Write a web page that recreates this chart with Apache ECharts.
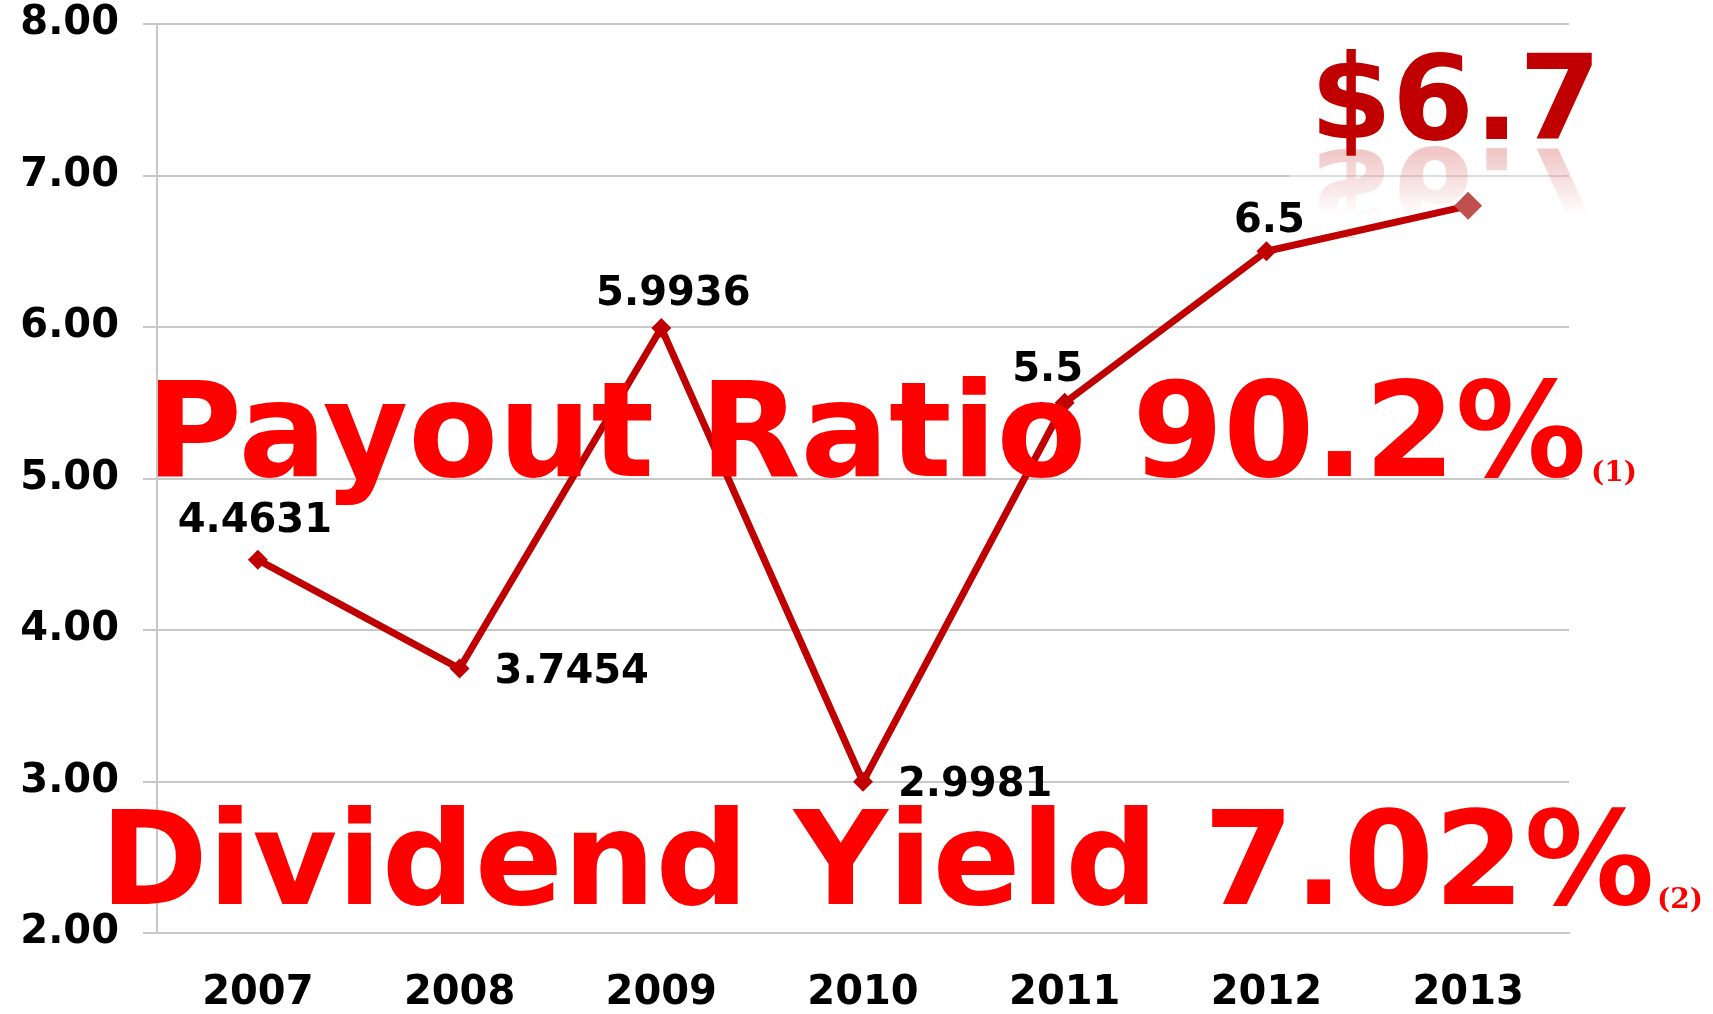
<!DOCTYPE html>
<html>
<head>
<meta charset="utf-8">
<script src="https://cdn.jsdelivr.net/npm/echarts@6/dist/echarts.min.js"></script>
<style>
    html, body {
        margin: 0;
        padding: 0;
        background: #fff;
    }
    #chart {
        width: 1713px;
        height: 1014px;
    }
</style>
</head>
<body>
<div id="chart"></div>
<script>
    // data
    const years = ['2007', '2008', '2009', '2010', '2011', '2012', '2013'];
    const dividends = [4.4631, 3.7454, 5.9936, 2.9981, 5.5, 6.5, 6.8];
    const pointLabels = ['4.4631', '3.7454', '5.9936', '2.9981', '5.5', '6.5', ''];
    const headline = '$6.7';
    const payoutText = 'Payout Ratio 90.2%';
    const yieldText = 'Dividend Yield 7.02%';

    const lineRed = '#C00000';
    const gridGray = '#C8C8C8';
    const labelFont = {
        fontFamily: 'DejaVu Sans',
        fontWeight: 'bold',
        fontSize: 40,
        color: '#000'
    };

    // where each value label sits round its point
    const labelPlace = [
        { position: 'top', distance: 8, offset: [-3, 0] },
        { position: 'right', distance: 25, offset: [0, 4] },
        { position: 'top', distance: 3, offset: [12, 0] },
        { position: 'right', distance: 25, offset: [0, 4] },
        { position: 'top', distance: 2, offset: [-17, 0] },
        { position: 'top', distance: 0, offset: [3, 0] },
        null
    ];

    let seriesData = dividends.map(function (v, i) {
        let item = { value: v };
        if (labelPlace[i]) {
            item.label = Object.assign({
                show: true,
                formatter: pointLabels[i]
            }, labelFont, labelPlace[i]);
        } else {
            // the last year is drawn as a bigger, lighter marker
            item.symbolSize = 28;
            item.itemStyle = { color: '#C0504D' };
            item.label = { show: false };
        }
        return item;
    });

    let myChart = echarts.init(document.getElementById('chart'));
    let option = {
        animation: false,
        grid: {
            left: 157,
            right: 144,
            top: 24,
            bottom: 75,
            containLabel: false
        },
        xAxis: {
            type: 'category',
            data: years,
            boundaryGap: true,
            axisLine: { show: true, lineStyle: { color: gridGray, width: 2 } },
            axisTick: { show: false },
            axisLabel: Object.assign({ margin: 41 }, labelFont),
            splitLine: { show: false }
        },
        yAxis: {
            type: 'value',
            min: 2,
            max: 8,
            interval: 1,
            axisLine: { show: true, lineStyle: { color: gridGray, width: 2 } },
            axisTick: { show: true, length: 14, lineStyle: { color: gridGray, width: 2 } },
            axisLabel: Object.assign({
                margin: 38,
                formatter: function (v) { return v.toFixed(2); }
            }, labelFont),
            splitLine: { show: true, lineStyle: { color: gridGray, width: 2 } }
        },
        series: [{
            type: 'line',
            data: seriesData,
            symbol: 'diamond',
            symbolSize: 20,
            lineStyle: { color: lineRed, width: 7 },
            itemStyle: { color: lineRed },
            z: 3
        }],
        graphic: [
            {
                // faint mirror of the headline
                type: 'text',
                z: 1,
                x: 1310,
                y: 144,
                scaleY: -1,
                style: {
                    text: headline,
                    x: 0,
                    y: -35,
                    verticalAlign: 'middle',
                    font: 'bold 118px "DejaVu Sans"',
                    fill: 'rgba(192,0,0,0.22)'
                }
            },
            {
                type: 'rect',
                z: 2,
                shape: { x: 1290, y: 152, width: 345, height: 85 },
                style: {
                    fill: new echarts.graphic.LinearGradient(0, 0, 0, 1, [
                        { offset: 0, color: 'rgba(255,255,255,0)' },
                        { offset: 0.75, color: 'rgba(255,255,255,1)' },
                        { offset: 1, color: 'rgba(255,255,255,1)' }
                    ])
                }
            },
            {
                type: 'text',
                z: 101,
                style: {
                    text: headline,
                    x: 1310,
                    y: 108,
                    verticalAlign: 'middle',
                    font: 'bold 118px "DejaVu Sans"',
                    fill: '#C00000'
                }
            },
            {
                type: 'text',
                z: 101,
                style: {
                    text: payoutText,
                    x: 146,
                    y: 442,
                    verticalAlign: 'middle',
                    font: 'bold 131px "DejaVu Sans"',
                    fill: '#FF0000'
                }
            },
            {
                type: 'text',
                z: 101,
                style: {
                    text: '(1)',
                    x: 1591,
                    y: 474,
                    verticalAlign: 'middle',
                    font: 'bold 28px "DejaVu Serif"',
                    fill: '#FF0000'
                }
            },
            {
                type: 'text',
                z: 101,
                style: {
                    text: yieldText,
                    x: 100,
                    y: 870,
                    verticalAlign: 'middle',
                    font: 'bold 130px "DejaVu Sans"',
                    fill: '#FF0000'
                }
            },
            {
                type: 'text',
                z: 101,
                style: {
                    text: '(2)',
                    x: 1657,
                    y: 901,
                    verticalAlign: 'middle',
                    font: 'bold 28px "DejaVu Serif"',
                    fill: '#FF0000'
                }
            }
        ]
    };
    myChart.setOption(option);
</script>
</body>
</html>
